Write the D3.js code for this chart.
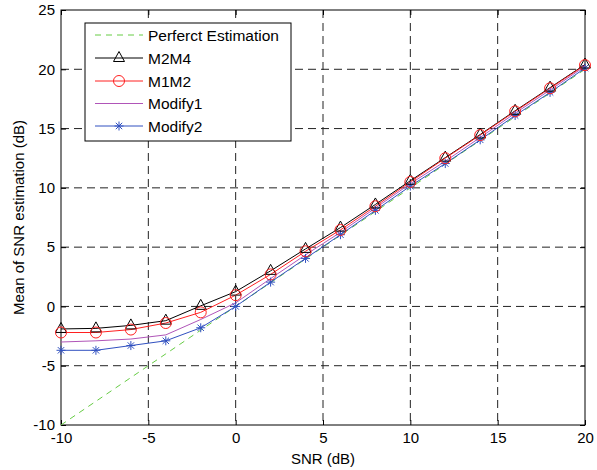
<!DOCTYPE html>
<html><head><meta charset="utf-8">
<script src="https://cdn.jsdelivr.net/npm/d3@7"></script>
<style>body{margin:0;background:#fff}svg{display:block}text{font-family:"Liberation Sans",Arial,sans-serif}</style>
</head><body><svg id="c" width="597" height="470"></svg>
<script>
const snr = [-10,-8,-6,-4,-2,0,2,4,6,8,10,12,14,16,18,20];
const perfect = [-10,-8,-6,-4,-2,0,2,4,6,8,10,12,14,16,18,20];
const m2m4 = [-1.9,-1.85,-1.6,-1.2,0.05,1.25,3.0,4.85,6.65,8.6,10.6,12.55,14.5,16.5,18.45,20.4];
const m1m2 = [-2.2,-2.2,-1.95,-1.4,-0.5,0.95,2.7,4.65,6.45,8.45,10.5,12.5,14.45,16.45,18.4,20.35];
const modify1 = [-3.0,-2.9,-2.75,-2.4,-1.1,0.3,2.35,4.35,6.25,8.3,10.35,12.25,14.25,16.3,18.25,20.25];
const modify2 = [-3.7,-3.7,-3.3,-2.9,-1.8,0.0,2.05,4.05,6.05,8.1,10.15,12.05,14.05,16.1,18.05,20.1];
const xTicks = [-10,-5,0,5,10,15,20];
const yTicks = [-10,-5,0,5,10,15,20,25];
const seriesNames = ["Perferct Estimation","M2M4","M1M2","Modify1","Modify2"];

const L=61,R=585,T=10,B=425;
const svg=d3.select("#c");
const x=d3.scaleLinear().domain([-10,20]).range([L,R]);
const y=d3.scaleLinear().domain([-10,25]).range([B,T]);
const fmt=d=>String(d);

// grid
const g=svg.append("g");
g.selectAll(".vg").data(xTicks.slice(1,-1)).join("line")
 .attr("x1",d=>x(d)).attr("x2",d=>x(d)).attr("y1",T).attr("y2",B)
 .attr("stroke","#222").attr("stroke-width",1).attr("stroke-dasharray","8,5");
g.selectAll(".hg").data(yTicks.slice(1,-1)).join("line")
 .attr("y1",d=>y(d)).attr("y2",d=>y(d)).attr("x1",L).attr("x2",R)
 .attr("stroke","#222").attr("stroke-width",1).attr("stroke-dasharray","8,5");

// axes
const xa=svg.append("g").attr("transform",`translate(0,${B})`).call(d3.axisBottom(x).tickValues(xTicks).tickSize(-5).tickPadding(7).tickFormat(fmt));
const xt=svg.append("g").attr("transform",`translate(0,${T})`).call(d3.axisTop(x).tickValues(xTicks).tickSize(-5).tickFormat(""));
const ya=svg.append("g").attr("transform",`translate(${L},0)`).call(d3.axisLeft(y).tickValues(yTicks).tickSize(-5).tickPadding(6).tickFormat(fmt));
const yr=svg.append("g").attr("transform",`translate(${R},0)`).call(d3.axisRight(y).tickValues(yTicks).tickSize(-5).tickFormat(""));
[xa,xt,ya,yr].forEach(a=>{a.select(".domain").remove();a.selectAll("line").attr("stroke","#000");a.selectAll("text").attr("font-size",15).attr("fill","#000").style("font-family","Liberation Sans, Arial, sans-serif");});
svg.append("rect").attr("x",L).attr("y",T).attr("width",R-L).attr("height",B-T).attr("fill","none").attr("stroke","#000").attr("stroke-width",1);

svg.append("text").attr("x",(L+R)/2).attr("y",464).attr("text-anchor","middle").attr("font-size",15).text("SNR (dB)");
svg.append("text").attr("transform",`translate(24,${(T+B)/2}) rotate(-90)`).attr("text-anchor","middle").attr("font-size",15).text("Mean of SNR estimation (dB)");

const line=d3.line().x((d,i)=>x(snr[i])).y(d=>y(d));
const cols={p:"#66cc44",k:"#000",r:"#ff2020",m:"#b055b8",b:"#3050c0"};

svg.append("path").datum(perfect).attr("d",line).attr("fill","none").attr("stroke",cols.p).attr("stroke-width",1).attr("stroke-dasharray","6,5");
svg.append("path").datum(modify1).attr("d",line).attr("fill","none").attr("stroke",cols.m).attr("stroke-width",1);
svg.append("path").datum(modify2).attr("d",line).attr("fill","none").attr("stroke",cols.b).attr("stroke-width",1);
svg.append("path").datum(m2m4).attr("d",line).attr("fill","none").attr("stroke",cols.k).attr("stroke-width",1);
svg.append("path").datum(m1m2).attr("d",line).attr("fill","none").attr("stroke",cols.r).attr("stroke-width",1);

function tri(sel,cx,cy){sel.append("path").attr("d",`M${cx},${cy-6.5}L${cx+5.5},${cy+3.5}L${cx-5.5},${cy+3.5}Z`).attr("fill","none").attr("stroke",cols.k).attr("stroke-width",1);}
function circ(sel,cx,cy){sel.append("circle").attr("cx",cx).attr("cy",cy).attr("r",5.5).attr("fill","none").attr("stroke",cols.r).attr("stroke-width",1);}
function star(sel,cx,cy){const s=4.5,d=3.2;sel.append("path").attr("d",`M${cx-s},${cy}L${cx+s},${cy}M${cx},${cy-s}L${cx},${cy+s}M${cx-d},${cy-d}L${cx+d},${cy+d}M${cx-d},${cy+d}L${cx+d},${cy-d}`).attr("stroke",cols.b).attr("stroke-width",1);}

const mk=svg.append("g");
modify2.forEach((v,i)=>star(mk,x(snr[i]),y(v)));
m2m4.forEach((v,i)=>tri(mk,x(snr[i]),y(v)));
m1m2.forEach((v,i)=>circ(mk,x(snr[i]),y(v)));

// legend
const lg=svg.append("g");
lg.append("rect").attr("x",85).attr("y",23).attr("width",206).attr("height",118).attr("fill","#fff").attr("stroke","#000").attr("stroke-width",1);
const rowY=[35,58,81,103.5,126];
const rowCol=[cols.p,cols.k,cols.r,cols.m,cols.b];
seriesNames.forEach((n,i)=>{
  const ly=rowY[i];
  const ln=lg.append("line").attr("x1",95).attr("x2",143).attr("y1",ly).attr("y2",ly).attr("stroke",rowCol[i]).attr("stroke-width",1);
  if(i===0) ln.attr("stroke-dasharray","6,5");
  if(i===1) tri(lg,119,ly);
  if(i===2) circ(lg,119,ly);
  if(i===4) star(lg,119,ly);
  lg.append("text").attr("x",148).attr("y",ly+5.5).attr("font-size",15.5).text(n);
});
</script></body></html>
